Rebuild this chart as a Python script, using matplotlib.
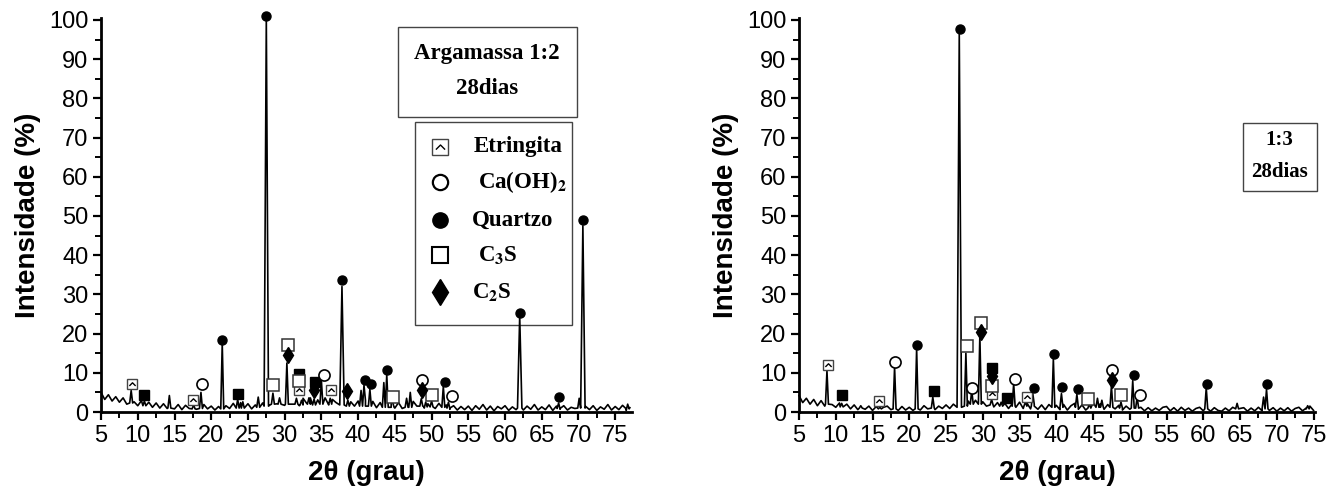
import numpy as np
import matplotlib
matplotlib.use("Agg")
import matplotlib.pyplot as plt
from matplotlib.path import Path
from matplotlib.patches import Rectangle
from matplotlib.ticker import MultipleLocator

plt.rcParams['font.family'] = ['Liberation Sans', 'DejaVu Sans']
plt.rcParams['mathtext.fontset'] = 'stix'

# ---- baseline noise, read every 0.5 deg ----
left_base_x = np.arange(5.0, 77.01, 0.5)
left_base = [
    5.0, 3.2, 4.4, 2.8, 3.9, 2.5, 3.6, 2.0, 3.1, 2.6,
    1.6, 2.9, 1.4, 2.5, 1.2, 2.3, 1.0, 2.1, 0.9, 2.2,
    0.8, 1.9, 0.6, 1.7, 0.9, 2.0, 0.7, 1.6, 1.9, 0.8,
    1.5, 0.5, 1.4, 0.6, 1.6, 0.9, 2.2, 1.0, 2.4, 1.3,
    2.1, 0.8, 1.8, 1.1, 2.3, 3.2, 1.8, 3.3, 2.1, 3.0,
    1.7, 3.4, 2.0, 3.2, 1.6, 3.5, 2.2, 3.6, 1.9, 3.1,
    2.3, 3.6, 1.8, 3.2, 2.4, 1.4, 2.9, 1.2, 2.6, 1.5,
    2.8, 1.3, 3.0, 1.4, 2.7, 1.1, 2.4, 0.9, 2.2, 2.6,
    1.0, 2.4, 0.9, 2.3, 1.3, 2.7, 1.5, 2.8, 1.0, 2.1,
    2.4, 0.9, 2.2, 1.5, 1.8, 0.7, 1.6, 0.5, 1.4, 0.6,
    1.5, 0.4, 1.6, 0.7, 1.9, 0.5, 1.5, 0.3, 1.4, 0.8,
    1.6, 0.4, 1.3, 0.6, 1.7, 0.5, 1.5, 0.7, 1.9, 0.5,
    1.3, 0.6, 1.8, 0.4, 1.5, 0.7, 1.6, 0.5, 1.2, 0.9,
    1.7, 0.5, 1.4, 0.6, 1.6, 0.4, 1.3, 0.7, 1.9, 0.5,
    1.4, 0.6, 1.7, 0.4, 1.1,
]
right_base_x = np.arange(5.0, 75.01, 0.5)
right_base = [
    4.2, 2.4, 3.5, 2.0, 3.2, 1.6, 2.9, 1.5, 2.6, 1.9,
    1.2, 2.3, 0.9, 2.0, 0.8, 1.8, 0.6, 1.7, 0.7, 1.5,
    0.4, 1.4, 0.5, 1.2, 1.5, 0.6, 1.3, 0.4, 1.4, 0.5,
    1.2, 0.4, 1.3, 0.5, 1.6, 0.8, 1.7, 0.6, 1.5, 0.9,
    1.8, 0.9, 2.0, 1.2, 2.4, 1.6, 2.8, 1.9, 3.0, 2.0,
    2.6, 1.5, 2.8, 1.3, 2.4, 1.1, 2.2, 0.9, 2.1, 1.2,
    2.5, 0.9, 2.3, 0.8, 2.0, 0.7, 1.8, 0.6, 1.9, 0.8,
    1.7, 0.6, 1.9, 0.5, 1.6, 2.2, 0.7, 1.8, 0.5, 1.6,
    2.4, 0.9, 2.1, 0.7, 1.9, 2.4, 0.8, 1.7, 0.5, 1.5,
    0.7, 1.6, 0.4, 1.2, 0.3, 1.1, 0.3, 1.0, 0.4, 1.2,
    1.4, 0.3, 1.1, 0.2, 1.2, 0.4, 1.0, 0.2, 0.9, 1.2,
    0.3, 1.0, 0.2, 1.1, 0.4, 0.2, 1.0, 0.3, 1.2, 0.2,
    0.9, 1.1, 0.2, 1.0, 0.3, 1.2, 0.3, 1.0, 0.4, 1.1,
    0.2, 1.0, 0.3, 1.1, 0.2, 0.9, 1.2, 0.3, 1.0, 1.5,
    0.4,
]

# ---- peaks: position, height, foot level ----
left_pk_pos = [9.1, 10.9, 14.3, 17.6, 18.6, 21.5, 23.6, 24.3, 26.4, 27.5,
               28.4, 29.3, 30.3, 31.6, 32.3, 33.3, 34.0, 35.0, 36.2, 37.8,
               38.6, 40.4, 40.8, 41.6, 43.5, 43.9, 44.7, 46.6, 47.1, 48.6,
               49.2, 50.0, 51.6, 52.3, 62.0, 67.3, 70.1, 70.6, 76.7]
left_pk_h = [5.5, 2.8, 4.2, 1.8, 5.0, 17.5, 3.2, 2.6, 3.8, 100.3,
             4.8, 3.6, 12.5, 3.5, 3.0, 3.6, 3.3, 8.0, 3.5, 32.0,
             3.0, 5.5, 6.8, 5.8, 7.5, 9.5, 2.5, 3.5, 5.0, 3.4,
             2.5, 2.8, 6.5, 2.5, 24.5, 2.3, 3.5, 47.5, 2.0]
left_pk_foot = [2.3, 1.6, 1.0, 0.8, 0.9, 0.8, 1.0, 1.0, 1.2, 1.5,
                2.0, 2.0, 2.0, 2.0, 1.8, 2.0, 1.8, 2.0, 2.0, 1.8,
                1.5, 1.5, 1.5, 1.5, 1.2, 1.2, 1.2, 1.2, 1.2, 1.5,
                1.3, 1.3, 1.2, 1.0, 1.0, 0.9, 1.0, 1.0, 0.8]

right_pk_pos = [8.8, 10.8, 13.4, 16.0, 18.0, 21.0, 23.2, 26.8, 27.7, 28.5,
                29.6, 31.2, 32.5, 34.2, 35.8, 36.8, 39.6, 40.7, 42.8, 44.5,
                45.6, 46.2, 47.5, 48.8, 50.4, 51.0, 60.4, 64.6, 68.2, 68.6,
                74.2]
right_pk_h = [10.5, 2.2, 1.6, 1.2, 11.5, 16.2, 3.8, 96.5, 15.0, 5.5,
              19.5, 3.2, 2.5, 7.2, 2.5, 4.7, 13.6, 4.7, 4.5, 2.0,
              3.5, 3.0, 6.6, 2.5, 8.0, 3.8, 6.2, 2.2, 3.8, 5.8,
              1.6]
right_pk_foot = [2.0, 1.3, 1.0, 0.8, 0.8, 0.8, 1.0, 1.2, 1.5, 2.0,
                 2.0, 1.8, 1.5, 1.5, 1.5, 1.5, 1.2, 1.2, 1.2, 1.0,
                 1.2, 1.2, 1.2, 1.0, 1.0, 1.0, 0.8, 0.8, 0.8, 0.8,
                 0.8]

# ---- phase markers ----
etr_L_x, etr_L_y = [9.2, 17.5, 32.0, 36.3], [7.2, 3.1, 5.5, 5.7]
sq_L_x, sq_L_y = [10.9, 23.7, 32.0, 34.1], [4.4, 4.7, 9.8, 7.7]
caoh_L_x, caoh_L_y = [18.7, 35.3, 48.7, 52.8], [7.2, 9.4, 8.1, 4.0]
qtz_L_x = [21.5, 27.5, 37.8, 40.9, 41.7, 43.9, 51.8, 62.0, 67.3, 70.6]
qtz_L_y = [18.3, 101.0, 33.6, 8.1, 7.2, 10.7, 7.7, 25.2, 3.7, 49.0]
c3s_L_x, c3s_L_y = [28.4, 30.4, 32.0, 44.8, 50.1], [7.0, 17.0, 7.9, 3.7, 4.4]
c2s_L_x, c2s_L_y = [30.4, 34.0, 38.5, 48.7], [14.5, 5.7, 5.4, 5.5]

etr_R_x, etr_R_y = [8.9, 15.9, 31.3, 36.0], [11.9, 2.7, 4.5, 3.8]
sq_R_x, sq_R_y = [10.9, 23.4, 31.3, 33.3], [4.3, 5.4, 11.1, 3.5]
caoh_R_x, caoh_R_y = [18.1, 28.6, 34.4, 47.6, 51.4], [12.8, 6.0, 8.5, 10.8, 4.4]
qtz_R_x = [21.0, 26.9, 36.9, 39.7, 40.8, 42.9, 50.6, 60.5, 68.7]
qtz_R_y = [17.0, 97.6, 6.1, 14.9, 6.4, 5.8, 9.5, 7.2, 7.1]
c3s_R_x, c3s_R_y = [27.8, 29.8, 31.3, 44.3, 48.8], [16.8, 22.6, 6.7, 3.4, 4.4]
c2s_R_x, c2s_R_y = [29.8, 31.3, 47.6], [20.3, 9.1, 8.1]

legend_names = ['Etringita', r'Ca(OH)$_\mathbf{2}$', 'Quartzo',
                r'C$_\mathbf{3}$S', r'C$_\mathbf{2}$S']

caret = Path([(-0.55, -0.25), (0, 0.3), (0.55, -0.25)],
             [Path.MOVETO, Path.LINETO, Path.LINETO])


def build_trace(bx, by, pos, h, foot):
    bx = np.asarray(bx)
    by = np.asarray(by)
    keep = np.ones(len(bx), bool)
    xs, ys = [], []
    for p, hh, f in zip(pos, h, foot):
        w = 0.3 if hh > 20 else 0.2
        keep &= np.abs(bx - p) > w
        xs += [p - w, p, p + w]
        ys += [f, hh, f]
    x = np.concatenate([bx[keep], xs])
    y = np.concatenate([by[keep], ys])
    o = np.argsort(x)
    return x[o], y[o]


def etr(ax, x, y, ms=7.5, **kw):
    ax.plot(x, y, ls='none', marker='s', ms=ms, mfc='white', mec='#444444',
            mew=1.0, zorder=4, **kw)
    ax.plot(x, y, ls='none', marker=caret, ms=ms * 0.6, mfc='none', mec='black',
            mew=1.0, zorder=5, **kw)


def phases(ax, d):
    etr(ax, d['etr'][0], d['etr'][1], clip_on=False)
    ax.plot(*d['sq'], ls='none', marker='s', ms=6.5, color='black', zorder=4, clip_on=False)
    ax.plot(*d['caoh'], ls='none', marker='o', ms=8, mfc='white', mec='black',
            mew=1.2, zorder=4, clip_on=False)
    ax.plot(*d['qtz'], ls='none', marker='o', ms=6.5, color='black', zorder=4, clip_on=False)
    ax.plot(*d['c3s'], ls='none', marker='s', ms=8, mfc='white', mec='#333333',
            mew=1.1, zorder=4, clip_on=False)
    ax.plot(*d['c2s'], ls='none', marker='d', ms=8.5, color='black', zorder=4, clip_on=False)


def style(ax, xmax):
    ax.set_xlim(5, xmax)
    ax.set_ylim(0, 100.5)
    for s in ['top', 'right']:
        ax.spines[s].set_visible(False)
    for s in ['left', 'bottom']:
        ax.spines[s].set_linewidth(2)
    ax.xaxis.set_major_locator(MultipleLocator(5))
    ax.xaxis.set_minor_locator(MultipleLocator(2.5))
    ax.yaxis.set_major_locator(MultipleLocator(10))
    ax.yaxis.set_minor_locator(MultipleLocator(5))
    ax.tick_params(which='major', direction='out', length=6, width=1.6,
                   labelsize=17, pad=3)
    ax.tick_params(which='minor', direction='out', length=4, width=1.4)
    ax.set_ylabel('Intensidade (%)', fontsize=20, fontweight='bold', labelpad=6)
    ax.set_xlabel('2θ (grau)', fontsize=20, fontweight='bold', labelpad=10)


fig = plt.figure(figsize=(13.42, 4.93), dpi=100)
axL = fig.add_axes([0.0753, 0.1643, 0.3957, 0.7992])
axR = fig.add_axes([0.5954, 0.1643, 0.3845, 0.7992])

xL, yL = build_trace(left_base_x, left_base, left_pk_pos, left_pk_h, left_pk_foot)
xR, yR = build_trace(right_base_x, right_base, right_pk_pos, right_pk_h, right_pk_foot)
axL.plot(xL, yL, color='black', lw=1.2, zorder=3, clip_on=False)
axR.plot(xR, yR, color='black', lw=1.2, zorder=3, clip_on=False)

phases(axL, dict(etr=(etr_L_x, etr_L_y), sq=(sq_L_x, sq_L_y), caoh=(caoh_L_x, caoh_L_y),
                 qtz=(qtz_L_x, qtz_L_y), c3s=(c3s_L_x, c3s_L_y), c2s=(c2s_L_x, c2s_L_y)))
phases(axR, dict(etr=(etr_R_x, etr_R_y), sq=(sq_R_x, sq_R_y), caoh=(caoh_R_x, caoh_R_y),
                 qtz=(qtz_R_x, qtz_R_y), c3s=(c3s_R_x, c3s_R_y), c2s=(c2s_R_x, c2s_R_y)))

style(axL, 77.3)
style(axR, 75.2)

serif = ['Liberation Serif', 'DejaVu Serif']

# title box (left)
tr = axL.transAxes
axL.add_patch(Rectangle((0.559, 0.749), 0.337, 0.228, transform=tr, fill=False,
                        ec='#444444', lw=1.0, clip_on=False))
axL.text(0.727, 0.910, 'Argamassa 1:2', transform=tr, ha='center', va='center',
         family=serif, fontweight='bold', fontsize=16.5)
axL.text(0.727, 0.822, '28dias', transform=tr, ha='center', va='center',
         family=serif, fontweight='bold', fontsize=16.5)

# legend box (left)
axL.add_patch(Rectangle((0.591, 0.221), 0.296, 0.515, transform=tr, fill=False,
                        ec='#444444', lw=1.0, clip_on=False))
rows = [0.673, 0.584, 0.487, 0.398, 0.305]
mx = 0.638
etr(axL, [mx], [rows[0]], ms=11, transform=tr, clip_on=False)
axL.plot([mx], [rows[1]], marker='o', ms=11, mfc='white', mec='black', mew=1.6,
         transform=tr, clip_on=False)
axL.plot([mx], [rows[2]], marker='o', ms=11, color='black', transform=tr, clip_on=False)
axL.plot([mx], [rows[3]], marker='s', ms=11, mfc='white', mec='black', mew=1.5,
         transform=tr, clip_on=False)
axL.plot([mx], [rows[4]], marker='d', ms=13, color='black', transform=tr, clip_on=False)
text_x = [0.702, 0.710, 0.698, 0.710, 0.698]
for name, ry, tx in zip(legend_names, rows, text_x):
    axL.text(tx, ry, name, transform=tr, ha='left', va='center', family=serif,
             fontweight='bold', fontsize=16.5)

# title box (right)
trR = axR.transAxes
axR.add_patch(Rectangle((0.860, 0.561), 0.143, 0.172, transform=trR, fill=False,
                        ec='#444444', lw=1.0, clip_on=False))
axR.text(0.931, 0.690, '1:3', transform=trR, ha='center', va='center',
         family=serif, fontweight='bold', fontsize=15)
axR.text(0.931, 0.610, '28dias', transform=trR, ha='center', va='center',
         family=serif, fontweight='bold', fontsize=15)

fig.savefig('out.png', dpi=100)
